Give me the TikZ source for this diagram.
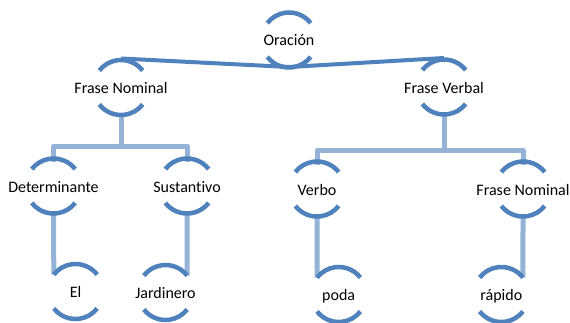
\documentclass[tikz,border=0pt]{standalone}
\usepackage{fontspec}
\setmainfont{Carlito}[RawFeature=-liga]
\usetikzlibrary{calc}
\definecolor{arcblue}{HTML}{4F81BD}
\definecolor{lineblue}{HTML}{95B3D7}
\newcommand\brackets[1]{%
  \draw[brk] ($(#1)+(38:27.5)$) arc[start angle=38,end angle=142,radius=27.5];
  \draw[brk] ($(#1)+(218:27.5)$) arc[start angle=218,end angle=322,radius=27.5];}
\begin{document}
\begin{tikzpicture}[x=1pt,y=1pt,
  lbl/.style={inner sep=0pt, text height=12pt, text depth=0pt, font=\fontsize{16}{19}\selectfont},
  brk/.style={draw=arcblue, line width=4.5pt},
  conn/.style={draw=lineblue, line width=5pt, line join=round},
  toplink/.style={draw=arcblue, line width=4pt}]
\useasboundingbox (0,0) rectangle (570,322);
\clip (0,0) rectangle (570,322);
% nodes
\node[lbl] (or)   at (289,282) {Oración};
\node[lbl] (fn)   at (121,234.5) {Frase Nominal};
\node[lbl] (fv)   at (444,235) {Frase Verbal};
\node[lbl] (det)  at (53.5,136) {Determinante};
\node[lbl] (sus)  at (187,136) {Sustantivo};
\node[lbl] (verb) at (317,133) {Verbo};
\node[lbl] (fn2)  at (523,133) {Frase Nominal};
\node[lbl] (el)   at (75.5,30.5) {El};
\node[lbl] (jar)  at (165.5,29.5) {Jardinero};
\node[lbl] (poda) at (338.7,27.5) {poda};
\node[lbl] (rap)  at (501.3,27.5) {rápido};
% connectors
\draw[toplink] ($(or)+(0,-27)$) -- ($(fn)+(0,29)$);
\draw[toplink] ($(or)+(0,-27)$) -- ($(fv)+(0,29)$);
\draw[conn] ($(fn)+(0,-28)$) -- ($(fn)+(0,-58.5)$);
\draw[conn] ($(det)+(0,24)$) |- ($(fn)+(0,-58.5)$) -| ($(sus)+(0,24)$);
\draw[conn] ($(fv)+(0,-28)$) -- ($(fv)+(0,-63)$);
\draw[conn] ($(verb)+(0,24)$) |- ($(fv)+(0,-63)$) -| ($(fn2)+(0,24)$);
\draw[conn] ($(det)+(0,-28)$) -- ($(el)+(142:27.5)$);
\draw[conn] ($(sus)+(0,-28)$) -- ($(jar)+(38:27.5)$);
\draw[conn] ($(verb)+(0,-28)$) -- ($(poda)+(142:27.5)$);
\draw[conn] ($(fn2)+(0,-28)$) -- ($(rap)+(38:27.5)$);
% brackets
\brackets{or}\brackets{fn}\brackets{fv}\brackets{det}\brackets{sus}
\brackets{verb}\brackets{fn2}\brackets{el}\brackets{jar}\brackets{poda}\brackets{rap}
\end{tikzpicture}
\end{document}
